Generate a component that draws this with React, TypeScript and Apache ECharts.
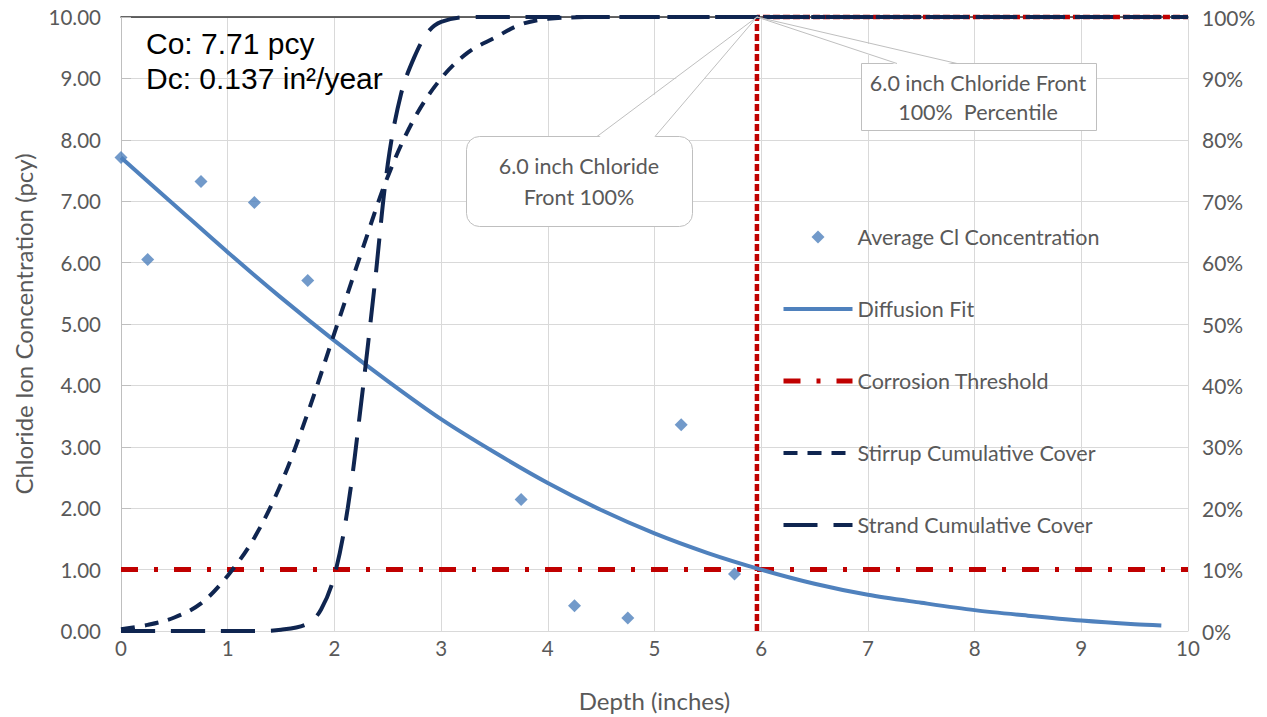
import React, { useEffect, useRef } from "react";
import * as echarts from "echarts";

// ---- data ----
const sampleDepth = [0, 0.25, 0.75, 1.25, 1.75, 3.75, 4.25, 4.75, 5.25, 5.75];
const sampleCl = [7.71, 6.05, 7.32, 6.98, 5.71, 2.14, 0.41, 0.21, 3.36, 0.93];

const fitDepth = [0, 0.5, 1, 1.5, 2, 2.5, 3, 3.5, 4, 4.5, 5, 5.5, 6, 6.5, 7, 7.5, 8, 8.5, 9, 9.5, 9.75];
const fitCl = [7.71, 6.94, 6.17, 5.43, 4.73, 4.07, 3.45, 2.91, 2.41, 1.97, 1.59, 1.27, 1.0, 0.77, 0.59, 0.46, 0.34, 0.25, 0.17, 0.11, 0.09];

const thresholdDepth = [0, 10];
const thresholdCl = [1.0, 1.0];

const stirrupDepth = [0, 0.25, 0.5, 0.75, 1, 1.25, 1.5, 1.75, 2, 2.25, 2.5, 2.75, 3, 3.25, 3.5, 3.75, 4, 4.5, 5, 6, 7, 8, 9, 10];
const stirrupPct = [0.3, 1.0, 2.2, 4.5, 9, 15.2, 24, 35.5, 48.5, 61.5, 74, 83.5, 90, 94.2, 96.6, 98.8, 99.7, 100, 100, 100, 100, 100, 100, 100];

const strandDepth = [0, 0.25, 0.5, 0.75, 1, 1.25, 1.5, 1.75, 1.875, 2, 2.125, 2.25, 2.375, 2.5, 2.625, 2.75, 2.875, 3, 3.25, 3.5, 4, 5, 6, 7, 8, 9, 10];
const strandPct = [0, 0, 0, 0, 0, 0, 0.2, 1.2, 3.5, 9, 20, 37, 56, 76, 87.5, 93.5, 97.5, 99.2, 100, 100, 100, 100, 100, 100, 100, 100, 100];

const frontDepth = [5.96, 5.96, 10];
const frontPct = [0, 100, 100];

const legendNames = [
  "Average Cl Concentration",
  "Diffusion Fit",
  "Corrosion Threshold",
  "Stirrup Cumulative Cover",
  "Strand Cumulative Cover",
];

const zip = (xs: number[], ys: number[]) => xs.map((x, i) => [x, ys[i]]);

const GRAY = "#595959";
const GRID = "#D9D9D9";
const NAVY = "#0F2550";
const RED = "#C00000";
const BLUE = "#4F81BD";
const FONT = "Lato";

const W_FIT = 4;
const W_RED = 5;
const W_NAVY = 4;

export default function App() {
  const ref = useRef<HTMLDivElement>(null);
  useEffect(() => {
    if (!ref.current) return;
    const chart = echarts.init(ref.current, undefined, { renderer: "svg" });
    const legendWidths = [0, W_FIT, W_RED, W_NAVY, W_NAVY];
    const option: any = {
      animation: false,
      backgroundColor: "#ffffff",
      textStyle: { fontFamily: FONT },
      grid: { left: 121, right: 79, top: 17, bottom: 84, containLabel: false },
      xAxis: [
        {
          type: "value",
          min: 0,
          max: 10,
          interval: 1,
          name: "Depth (inches)",
          nameLocation: "middle",
          nameGap: 57,
          nameTextStyle: { fontSize: 24, color: GRAY, fontFamily: FONT },
          axisLine: { show: true, lineStyle: { color: GRID } },
          axisTick: { show: false },
          axisLabel: { fontSize: 20.5, color: GRAY, margin: 6, fontFamily: FONT },
          splitLine: { show: true, lineStyle: { color: GRID, width: 1 } },
        },
        {
          type: "value",
          position: "top",
          min: 0,
          max: 10,
          interval: 1,
          axisLine: { show: true, onZero: false, lineStyle: { color: "#333333", width: 1.5 } },
          axisTick: { show: false },
          axisLabel: { show: false },
          splitLine: { show: false },
        },
      ],
      yAxis: [
        {
          type: "value",
          min: 0,
          max: 10,
          interval: 1,
          name: "Chloride Ion Concentration (pcy)",
          nameLocation: "middle",
          nameGap: 86,
          nameTextStyle: { fontSize: 24, color: GRAY, fontFamily: FONT },
          axisLine: { show: false },
          axisTick: { show: false },
          axisLabel: {
            fontSize: 20.5,
            color: GRAY,
            margin: 20,
            fontFamily: FONT,
            formatter: (v: number) => v.toFixed(2),
          },
          splitLine: { show: true, lineStyle: { color: GRID, width: 1 } },
        },
        {
          type: "value",
          min: 0,
          max: 100,
          interval: 10,
          position: "right",
          axisLine: { show: true, lineStyle: { color: "#BFBFBF" } },
          axisTick: { show: true, length: 10, inside: false, lineStyle: { color: "#BFBFBF" } },
          axisLabel: { fontSize: 21, color: GRAY, margin: 14, fontFamily: FONT, formatter: "{value}%" },
          splitLine: { show: false },
        },
      ],
      legend: {
        orient: "vertical",
        left: 781,
        top: 226,
        padding: 0,
        itemWidth: 69,
        itemHeight: 13,
        itemGap: 50,
        symbolKeepAspect: true,
        textStyle: { fontSize: 21.5, color: GRAY, lineHeight: 22, fontFamily: FONT },
        data: legendNames.map((n, i) =>
          i === 0
            ? { name: n, icon: "path://M0,-1L1,0L0,1L-1,0Z" }
            : { name: n, itemStyle: { opacity: 0 }, lineStyle: { width: legendWidths[i] } }
        ),
      },
      series: [
        {
          name: "Chloride Front",
          type: "line",
          yAxisIndex: 1,
          data: zip(frontDepth, frontPct),
          symbol: "none",
          clip: false,
          lineStyle: { color: RED, width: 4.5, type: [7, 3] },
          z: 2,
        },
        {
          name: "Corrosion Threshold",
          type: "line",
          data: zip(thresholdDepth, thresholdCl),
          symbol: "none",
          itemStyle: { color: RED },
          lineStyle: { color: RED, width: W_RED, type: [17, 16, 4, 16] },
          z: 3,
        },
        {
          name: "Diffusion Fit",
          type: "line",
          data: zip(fitDepth, fitCl),
          symbol: "none",
          smooth: 0.3,
          itemStyle: { color: BLUE },
          lineStyle: { color: BLUE, width: W_FIT },
          z: 4,
        },
        {
          name: "Stirrup Cumulative Cover",
          type: "line",
          yAxisIndex: 1,
          data: zip(stirrupDepth, stirrupPct),
          symbol: "none",
          smooth: 0.35,
          clip: false,
          itemStyle: { color: NAVY },
          lineStyle: { color: NAVY, width: W_NAVY, type: [14, 10] },
          z: 5,
        },
        {
          name: "Strand Cumulative Cover",
          type: "line",
          yAxisIndex: 1,
          data: zip(strandDepth, strandPct),
          symbol: "none",
          smooth: 0.35,
          clip: false,
          itemStyle: { color: NAVY },
          lineStyle: { color: NAVY, width: W_NAVY, type: [34, 16] },
          z: 5,
        },
        {
          name: "Average Cl Concentration",
          type: "scatter",
          data: zip(sampleDepth, sampleCl),
          symbol: "diamond",
          symbolSize: 13,
          itemStyle: { color: BLUE },
          z: 6,
        },
      ],
    };
    chart.setOption(option);

    const tip = chart.convertToPixel({ xAxisIndex: 0, yAxisIndex: 0 }, [5.96, 10]) as number[];
    const tx = tip[0];
    const ty = tip[1];
    const BORDER = "#BFBFBF";
    const calloutFont = `21.5px ${FONT}`;
    chart.setOption({
      graphic: [
        {
          type: "text",
          z: 100,
          x: 146,
          y: 43,
          style: {
            text: "Co: 7.71 pcy",
            font: '30px "Liberation Sans"',
            fill: "#000000",
            verticalAlign: "middle",
            textVerticalAlign: "middle",
          },
        },
        {
          type: "text",
          z: 100,
          x: 146,
          y: 78,
          style: {
            text: "Dc: 0.137 in²/year",
            font: '30px "Liberation Sans"',
            fill: "#000000",
            verticalAlign: "middle",
            textVerticalAlign: "middle",
          },
        },
        // callout 1 (rounded)
        {
          type: "rect",
          z: 100,
          shape: { x: 466.5, y: 136.5, width: 226, height: 90, r: 13 },
          style: { fill: "#ffffff", stroke: BORDER, lineWidth: 1 },
        },
        {
          type: "polygon",
          z: 101,
          shape: { points: [[598, 138], [tx, ty], [654, 138]] },
          style: { fill: "#ffffff", stroke: null },
        },
        {
          type: "polyline",
          z: 102,
          shape: { points: [[597, 136.5], [tx, ty], [655, 136.5]] },
          style: { fill: null, stroke: BORDER, lineWidth: 1 },
        },
        {
          type: "text",
          z: 103,
          x: 579,
          y: 181,
          style: {
            text: "6.0 inch Chloride\nFront 100%",
            font: calloutFont,
            fill: GRAY,
            lineHeight: 31,
            align: "center",
            textAlign: "center",
            verticalAlign: "middle",
            textVerticalAlign: "middle",
          },
        },
        // callout 2 (square)
        {
          type: "rect",
          z: 100,
          shape: { x: 861.5, y: 63.5, width: 235, height: 67 },
          style: { fill: "#ffffff", stroke: BORDER, lineWidth: 1 },
        },
        {
          type: "polygon",
          z: 101,
          shape: { points: [[898, 65], [tx, ty], [956, 65]] },
          style: { fill: "#ffffff", stroke: null },
        },
        {
          type: "polyline",
          z: 102,
          shape: { points: [[897, 63.5], [tx, ty], [957, 63.5]] },
          style: { fill: null, stroke: BORDER, lineWidth: 1 },
        },
        {
          type: "text",
          z: 103,
          x: 978,
          y: 97,
          style: {
            text: "6.0 inch Chloride Front\n100%  Percentile",
            font: calloutFont,
            fill: GRAY,
            lineHeight: 29,
            align: "center",
            textAlign: "center",
            verticalAlign: "middle",
            textVerticalAlign: "middle",
          },
        },
      ],
    });

    return () => chart.dispose();
  }, []);
  return (
    <div
      ref={ref}
      style={{ position: "fixed", left: 0, top: 0, width: 1267, height: 717 }}
    />
  );
}
